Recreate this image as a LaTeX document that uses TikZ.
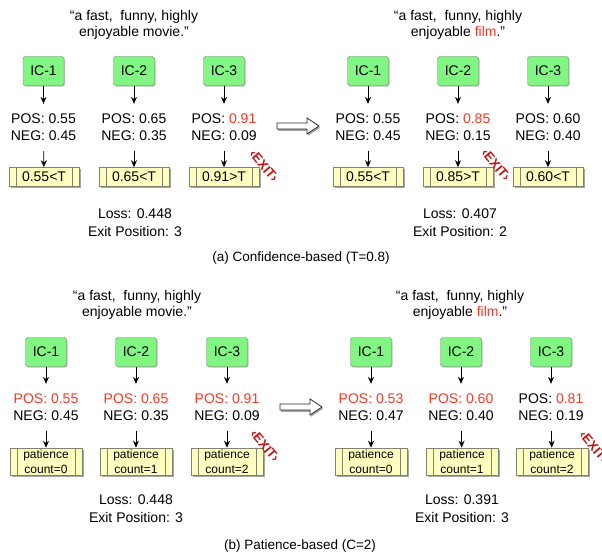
\documentclass[tikz,border=0pt]{standalone}
\usepackage{fontspec}
\setmainfont{Liberation Sans}
\usetikzlibrary{arrows.meta,shadows}

\definecolor{icgreen}{RGB}{130,246,130}
\definecolor{icborder}{RGB}{105,130,105}
\definecolor{gatefill}{RGB}{255,255,192}
\definecolor{gateborder}{RGB}{130,130,110}
\definecolor{hl}{RGB}{250,55,35}
\definecolor{exitred}{RGB}{196,20,20}

\tikzset{
  txt/.style={font=\fontsize{14}{17}\selectfont, inner sep=0pt},
  quote/.style={txt, align=center, font=\fontsize{14}{16}\selectfont},
  ic/.style={draw=icborder, fill=icgreen, rounded corners=2.5pt,
    minimum width=41pt, minimum height=29pt, inner sep=0pt,
    font=\fontsize{14}{17}\selectfont,
    drop shadow={shadow xshift=1pt, shadow yshift=-1.2pt, fill=black, opacity=0.25}},
  probs/.style={align=center, font=\fontsize{14}{17}\selectfont,
    inner xsep=0pt, inner ysep=10pt},
  gate/.style={draw=gateborder, fill=gatefill, line width=0.6pt,
    minimum width=70pt, minimum height=19pt, inner sep=0pt,
    font=\fontsize{14}{17}\selectfont,
    drop shadow={shadow xshift=1.5pt, shadow yshift=-2pt, fill=black, opacity=0.35},
    path picture={\draw[gateborder, line width=0.6pt]
      ([xshift=7pt]path picture bounding box.south west) -- ([xshift=7pt]path picture bounding box.north west)
      ([xshift=-7pt]path picture bounding box.south east) -- ([xshift=-7pt]path picture bounding box.north east);}},
  pgate/.style={gate, minimum width=72pt, minimum height=27pt, align=center,
    font=\fontsize{12}{15}\selectfont},
  arr/.style={-{Stealth[length=7pt,width=6pt]}, line width=0.8pt},
  note/.style={txt, align=center, font=\fontsize{14}{18}\selectfont},
  caption/.style={txt, font=\fontsize{13.5}{16}\selectfont},
  exitsign/.style={text=exitred, font=\fontsize{13}{13}\bfseries\selectfont,
    rotate=-50, inner sep=0pt},
  bigarrow/.style={draw=black!85, fill=white, line width=0.8pt, line join=miter,
    drop shadow={shadow xshift=1pt, shadow yshift=-1.8pt, fill=black, opacity=0.35}},
}

\begin{document}
\begin{tikzpicture}[x=1pt, y=-1pt]
\useasboundingbox (0,0) rectangle (602,553);
\clip (0,0) rectangle (602,553);

% hollow block arrow between the two halves of a row, tip at (x,y)
\newcommand\blockarrow[2]{%
  \draw[bigarrow] (#1-42,#2-3) -- (#1-12,#2-3) -- (#1-12,#2-8) -- (#1,#2)
    -- (#1-12,#2+8) -- (#1-12,#2+3) -- (#1-42,#2+3) -- cycle;}

% ---------- (a) confidence-based, original sentence ----------
\node[quote] (qa) at (134,25) {“a fast,\ \ funny, highly\\enjoyable movie.”};
\node[ic] (a1) at (43.5,71) {IC-1};
\node[ic] (a2) at (134,71) {IC-2};
\node[ic] (a3) at (224,71) {IC-3};
\node[probs] (pa1) at (43.5,127.5) {POS: 0.55\\NEG: 0.45};
\node[probs] (pa2) at (134,127.5) {POS: 0.65\\NEG: 0.35};
\node[probs] (pa3) at (224,127.5) {POS: \textcolor{hl}{0.91}\\NEG: 0.09};
\node[gate] (ga1) at (44,177) {0.55<T};
\node[gate] (ga2) at (134,177) {0.65<T};
\node[gate] (ga3) at (224,177) {0.91>T};
\foreach \i in {1,2,3} {
  \draw[arr] (a\i) -- (pa\i);
  \draw[arr] (pa\i) -- (ga\i);
}
\node[exitsign] (xa) at (264,166) {‹EXIT›};
\node[note] (la) at (135,223) {Loss: 0.448\\Exit Position: 3};

\blockarrow{319}{126}

% ---------- (a) confidence-based, perturbed sentence ----------
\node[quote] (qb) at (458,25) {“a fast,\ \ funny, highly\\enjoyable \textcolor{hl}{film}.”};
\node[ic] (b1) at (368,71) {IC-1};
\node[ic] (b2) at (458,71) {IC-2};
\node[ic] (b3) at (548,71) {IC-3};
\node[probs] (pb1) at (368,127.5) {POS: 0.55\\NEG: 0.45};
\node[probs] (pb2) at (458,127.5) {POS: \textcolor{hl}{0.85}\\NEG: 0.15};
\node[probs] (pb3) at (548,127.5) {POS: 0.60\\NEG: 0.40};
\node[gate] (gb1) at (368,177) {0.55<T};
\node[gate] (gb2) at (458,177) {0.85>T};
\node[gate] (gb3) at (548,177) {0.60<T};
\foreach \i in {1,2,3} {
  \draw[arr] (b\i) -- (pb\i);
  \draw[arr] (pb\i) -- (gb\i);
}
\node[exitsign] (xb) at (496,165) {‹EXIT›};
\node[note] (lb) at (460,223) {Loss: 0.407\\Exit Position: 2};

\node[caption] (capa) at (301,258) {(a) Confidence-based (T=0.8)};

% ---------- (b) patience-based, original sentence ----------
\node[quote] (qc) at (137,305) {“a fast,\ \ funny, highly\\enjoyable movie.”};
\node[ic] (c1) at (46,352) {IC-1};
\node[ic] (c2) at (136,352) {IC-2};
\node[ic] (c3) at (227,352) {IC-3};
\node[probs] (pc1) at (46,407.5) {\textcolor{hl}{POS: 0.55}\\NEG: 0.45};
\node[probs] (pc2) at (136,407.5) {\textcolor{hl}{POS: 0.65}\\NEG: 0.35};
\node[probs] (pc3) at (227,407.5) {\textcolor{hl}{POS: 0.91}\\NEG: 0.09};
\node[pgate] (gc1) at (46,461.5) {patience\\count=0};
\node[pgate] (gc2) at (136,461.5) {patience\\count=1};
\node[pgate] (gc3) at (227,461.5) {patience\\count=2};
\foreach \i in {1,2,3} {
  \draw[arr] (c\i) -- (pc\i);
  \draw[arr] (pc\i) -- (gc\i);
}
\node[exitsign] (xc) at (265,446) {‹EXIT›};
\node[note] (lc) at (136,508.5) {Loss: 0.448\\Exit Position: 3};

\blockarrow{322}{407}

% ---------- (b) patience-based, perturbed sentence ----------
\node[quote] (qd) at (460,305) {“a fast,\ \ funny, highly\\enjoyable \textcolor{hl}{film}.”};
\node[ic] (d1) at (371,352) {IC-1};
\node[ic] (d2) at (461,352) {IC-2};
\node[ic] (d3) at (551,352) {IC-3};
\node[probs] (pd1) at (371,407.5) {\textcolor{hl}{POS: 0.53}\\NEG: 0.47};
\node[probs] (pd2) at (461,407.5) {\textcolor{hl}{POS: 0.60}\\NEG: 0.40};
\node[probs] (pd3) at (551,407.5) {POS: \textcolor{hl}{0.81}\\NEG: 0.19};
\node[pgate] (gd1) at (371,461.5) {patience\\count=0};
\node[pgate] (gd2) at (462,461.5) {patience\\count=1};
\node[pgate] (gd3) at (552,461.5) {patience\\count=2};
\foreach \i in {1,2,3} {
  \draw[arr] (d\i) -- (pd\i);
  \draw[arr] (pd\i) -- (gd\i);
}
\node[exitsign] (xd) at (594,447) {‹EXIT›};
\node[note] (ld) at (462,508.5) {Loss: 0.391\\Exit Position: 3};

\node[caption] (capb) at (300,546) {(b) Patience-based (C=2)};
\end{tikzpicture}
\end{document}
